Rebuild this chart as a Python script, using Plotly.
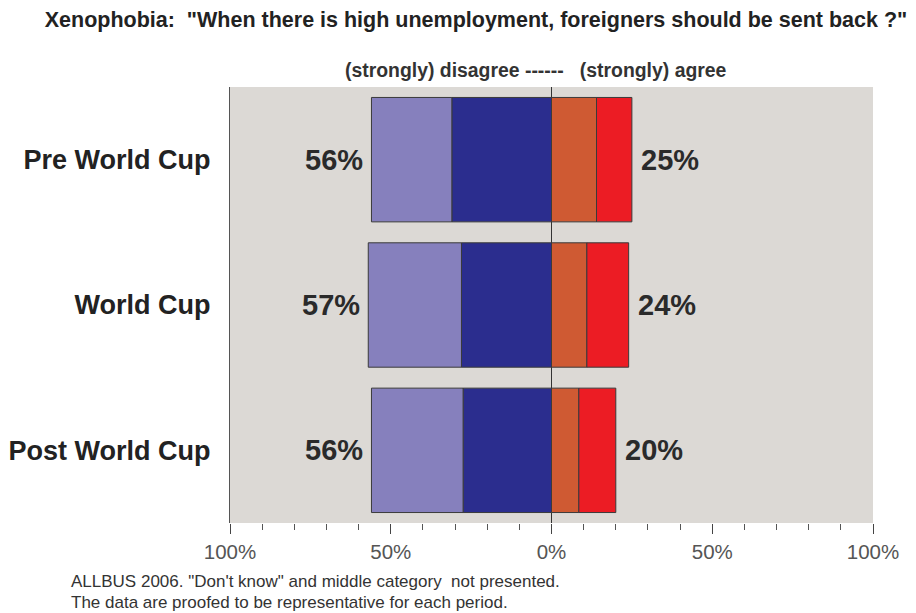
import plotly.graph_objects as go

periods = ["Pre World Cup", "World Cup", "Post World Cup"]
strongly_disagree = [31, 28, 27.5]   # inner dark blue
disagree = [25, 29, 28.5]            # outer light purple
agree = [14, 11, 8.5]                # inner orange
strongly_agree = [11, 13, 11.5]      # outer red

tick_vals = [-100, -50, 0, 50, 100]
tick_text = ["100%", "50%", "0%", "50%", "100%"]

FONT = "Liberation Sans, Arial, sans-serif"
line = dict(color="#3a3a3a", width=1)

# page body has an 8px default margin, so the figure is 8px smaller than the window
W, H = 908, 605

fig = go.Figure()
fig.add_bar(y=periods, x=[-v for v in strongly_disagree], orientation="h",
            marker=dict(color="#2b2d8e", line=line), name="strongly disagree")
fig.add_bar(y=periods, x=[-v for v in disagree], orientation="h",
            marker=dict(color="#8680bd", line=line), name="disagree")
fig.add_bar(y=periods, x=agree, orientation="h",
            marker=dict(color="#cf5a33", line=line), name="agree")
fig.add_bar(y=periods, x=strongly_agree, orientation="h",
            marker=dict(color="#ec1c24", line=line), name="strongly agree")

for i, p in enumerate(periods):
    neg = strongly_disagree[i] + disagree[i]
    pos = agree[i] + strongly_agree[i]
    fig.add_annotation(x=-neg, y=p, text=f"<b>{round(neg)}%</b>", showarrow=False,
                       xanchor="right", xshift=-6,
                       font=dict(family=FONT, size=29, color="#2a2a2a"))
    fig.add_annotation(x=pos, y=p, text=f"<b>{round(pos)}%</b>", showarrow=False,
                       xanchor="left", xshift=7,
                       font=dict(family=FONT, size=29, color="#2a2a2a"))

fig.add_annotation(xref="paper", yref="paper", x=(536 - 230) / 643, y=1, yshift=17,
                   text="<b>(strongly) disagree ------   (strongly) agree</b>",
                   showarrow=False, xanchor="center", yanchor="middle",
                   font=dict(family=FONT, size=19.4, color="#333"))

footnotes = ["ALLBUS 2006. \"Don't know\" and middle category  not presented.",
             "The data are proofed to be representative for each period."]
for k, t in enumerate(footnotes):
    fig.add_annotation(xref="paper", yref="paper", x=(69 - 230) / 643, y=0,
                       yshift=-58 - 21 * k,
                       text=t, showarrow=False, xanchor="left", yanchor="middle",
                       align="left", font=dict(family=FONT, size=17, color="#333"))

fig.update_layout(
    width=W, height=H,
    barmode="relative", bargap=0.144,
    showlegend=False,
    paper_bgcolor="white", plot_bgcolor="#dcd9d5",
    margin=dict(l=222, r=43, t=79, b=90, autoexpand=False),
    title=dict(text="<b>Xenophobia:  \"When there is high unemployment, foreigners should be sent back ?\"</b>",
               xref="container", x=468 / W, xanchor="center",
               yref="container", y=1 - 11 / H, yanchor="middle",
               font=dict(family=FONT, size=21.5, color="#222")),
    xaxis=dict(range=[-100, 100], tickmode="array", tickvals=tick_vals, ticktext=tick_text,
               ticks="outside", ticklen=10, tickcolor="#444", tickwidth=1,
               ticklabelstandoff=0, automargin=False,
               minor=dict(tickmode="linear", tick0=0, dtick=10, ticks="outside",
                          ticklen=6, tickcolor="#555", tickwidth=1),
               showgrid=False, zeroline=True, zerolinecolor="#333", zerolinewidth=1.2,
               showline=False, fixedrange=True,
               tickfont=dict(family=FONT, size=20.5, color="#555")),
    yaxis=dict(autorange="reversed", showgrid=False, zeroline=False, automargin=False,
               showline=True, linecolor="#555", linewidth=1,
               ticks="", ticklabelstandoff=13,
               tickfont=dict(family=FONT, size=27, color="#222", weight="bold")),
)

fig.write_html("out.html")
